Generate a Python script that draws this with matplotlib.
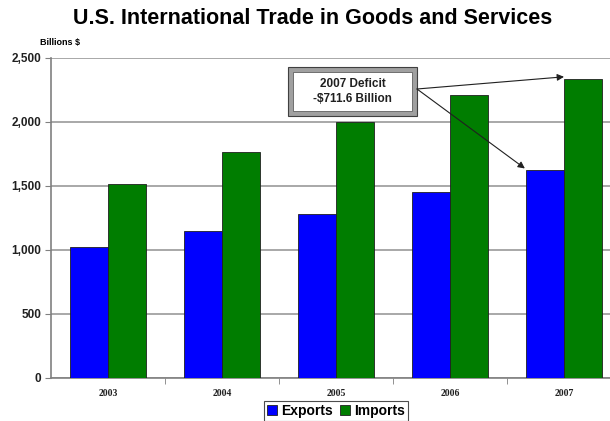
import numpy as np
import matplotlib
matplotlib.use("Agg")
import matplotlib.pyplot as plt
from matplotlib.patches import Rectangle

# data (billions of dollars)
years = ["2003", "2004", "2005", "2006", "2007"]
exports = [1021, 1152, 1280, 1450, 1622]
imports = [1516, 1769, 1998, 2210, 2333]
y_ticks = [0, 500, 1000, 1500, 2000, 2500]
deficit_2007 = 711.6

plt.rcParams['font.family'] = ['Liberation Sans', 'DejaVu Sans']

fig = plt.figure(figsize=(6.1, 4.21), dpi=100)
ax = fig.add_axes([51 / 610, 1 - 378 / 421, 570 / 610, 320 / 421])

x = np.arange(len(years))
width = 1 / 3
ax.bar(x - width / 2, exports, width, color='#0000ff', edgecolor='#202020',
       linewidth=0.6, label='Exports', zorder=3)
ax.bar(x + width / 2, imports, width, color='#007d00', edgecolor='#202020',
       linewidth=0.6, label='Imports', zorder=3)

ax.set_xlim(-0.5, len(years) - 0.5)
ax.set_ylim(0, 2500)
ax.set_yticks(y_ticks)
ax.set_yticklabels(['{:,}'.format(v) for v in y_ticks], fontsize=8.5,
                   fontweight='bold', color='#202020')
ax.yaxis.grid(True, color='#9a9a9a', linewidth=1.2, zorder=0)

ax.set_xticks(x)
ax.set_xticklabels(years, fontsize=7, fontweight='bold',
                   family='Liberation Serif', color='#202020')
ax.set_xticks(np.arange(len(years)) + 0.5, minor=True)
ax.tick_params(axis='x', which='major', length=0, pad=8)
ax.tick_params(axis='x', which='minor', length=4, color='#808080')
ax.tick_params(axis='y', length=4, color='#808080', pad=3)

for side in ['top', 'right']:
    ax.spines[side].set_visible(False)
for side in ['left', 'bottom']:
    ax.spines[side].set_color('#808080')
    ax.spines[side].set_linewidth(1.2)

fig.text(0.513, 0.955, 'U.S. International Trade in Goods and Services',
         ha='center', va='center', fontsize=15.5, fontweight='bold')
fig.text(40 / 610, 1 - 42 / 421, 'Billions $', ha='left', va='center',
         fontsize=6.5, fontweight='bold')

# deficit callout box (beveled look)
bx0, bx1 = (288 - 51) / 570, (417 - 51) / 570
by0, by1 = (378 - 116) / 320, (378 - 67) / 320
ax.add_patch(Rectangle((bx0, by0), bx1 - bx0, by1 - by0, transform=ax.transAxes,
                       facecolor='#a0a0a0', edgecolor='#404040', linewidth=0.8,
                       zorder=5, clip_on=False))
ix, iy = 5 / 570, 5 / 320
ax.add_patch(Rectangle((bx0 + ix, by0 + iy), bx1 - bx0 - 2 * ix,
                       by1 - by0 - 2 * iy, transform=ax.transAxes,
                       facecolor='white', edgecolor='#606060', linewidth=0.6,
                       zorder=6, clip_on=False))
ax.text((bx0 + bx1) / 2, (by0 + by1) / 2,
        '2007 Deficit\n-${:,.1f} Billion'.format(deficit_2007),
        transform=ax.transAxes, ha='center', va='center', fontsize=8.5,
        fontweight='bold', color='#202020', zorder=7, linespacing=1.4)

start = (bx1, (378 - 89) / 320)
arrow = dict(arrowstyle='-|>', color='#202020', lw=0.8, mutation_scale=10,
             shrinkA=0, shrinkB=0)
ax.annotate('', xy=(x[-1], imports[-1] + 20), xycoords='data',
            xytext=start, textcoords='axes fraction', arrowprops=arrow, zorder=8)
ax.annotate('', xy=(x[-1] - width - 0.01, exports[-1] + 15), xycoords='data',
            xytext=start, textcoords='axes fraction', arrowprops=arrow, zorder=8)

leg = fig.legend(loc='center', bbox_to_anchor=(336 / 610, 1 - 411 / 421), ncol=2,
                 frameon=True, prop={'weight': 'bold', 'size': 10},
                 handlelength=0.7, handleheight=0.7, handletextpad=0.3,
                 columnspacing=0.5, borderpad=0.25, fancybox=False,
                 edgecolor='#202020')
leg.get_frame().set_linewidth(0.8)

fig.savefig('out.png', dpi=100)
